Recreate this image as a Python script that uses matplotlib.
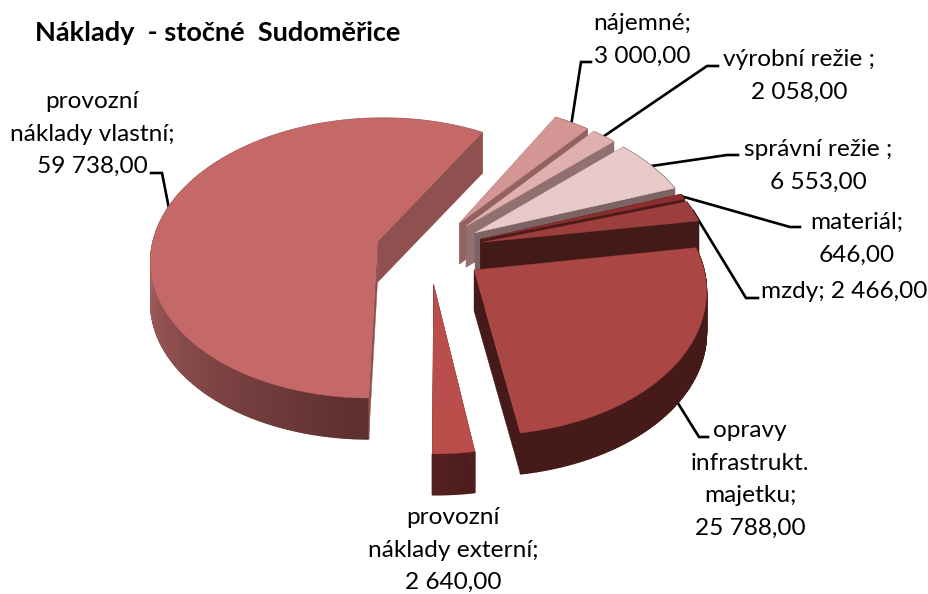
import numpy as np
import matplotlib
matplotlib.use("Agg")
import matplotlib.pyplot as plt
from matplotlib.patches import Polygon
from matplotlib.colors import to_rgb

plt.rcParams['font.family'] = ['Lato', 'DejaVu Sans']

# data, clockwise from the start of the big slice
names = [['provozní', 'náklady vlastní;'], ['nájemné;'], ['výrobní režie ;'], ['správní režie ;'],
         ['materiál;'], ['mzdy;'], ['opravy', 'infrastrukt.', 'majetku;'], ['provozní', 'náklady externí;']]
values = [59738.0, 3000.0, 2058.0, 6553.0, 646.0, 2466.0, 25788.0, 2640.0]

top_colors = ['#C46968', '#D49595', '#DFB0AF', '#E8CBC9', '#8A2F2D', '#9C3E3C', '#AA4643', '#B94E4B']
cut_colors = ['#8F5050', '#93625F', '#91706F', '#7B6463', '#4A1B19', '#421A18', '#461A18', '#4F1F1E']
wall_near = ['#5C2E2E', '#93625F', '#91706F', '#7B6463', '#4A1B19', '#421A18', '#461A18', '#4A1C1B']
wall_far = ['#A86060', '#93625F', '#91706F', '#7B6463', '#4A1B19', '#421A18', '#461A18', '#552120']

# projection of the tilted pie to pixels
cx, cy = 429.5, 250
sx, sy = 226, 140
persp = 0.12
depth = 41
explode = 0.24
start_angle = 180.4


def project(x, y):
    s = 1 / (1 + persp * y)
    return cx + sx * x * s, cy - sy * y * s


def rim_point(ox, oy, ang):
    a = np.radians(ang)
    return project(ox + np.sin(a), oy + np.cos(a))


fig = plt.figure(figsize=(9.29, 5.94), dpi=100)
ax = fig.add_axes([0, 0, 1, 1])
ax.set_xlim(0, 929)
ax.set_ylim(594, 0)
ax.axis('off')

total = sum(values)
sweeps = [v / total * 360 for v in values]
starts = start_angle + np.concatenate([[0], np.cumsum(sweeps)[:-1]])

# elbow and end of the leader for every label
elbows = [[(162, 173), (151, 173)], [(581, 62), (591, 62)], [(707, 66), (718, 66)], [(727, 155), (738, 155)],
          [(790, 227), (800, 227)], [(746, 298), (758, 298)], [(699, 437), (708, 437)], None]
anchors = [(92, 108), (642, 30), (799, 66), (818, 156), (857, 229), (844, 298), (750, 437), (453, 524)]

fs = 17.6
anchor_pts = []
for i in range(len(values)):
    a0, sw = starts[i], sweeps[i]
    mid = a0 + sw / 2
    ox = explode * np.sin(np.radians(mid))
    oy = explode * np.cos(np.radians(mid))
    ap = project(ox, oy)
    angs = np.linspace(a0, a0 + sw, max(int(sw * 2), 6))
    rim = [rim_point(ox, oy, a) for a in angs]
    anchor_pts.append(rim_point(ox, oy, mid))
    zo = 2 + i

    # outer wall, shaded along the rim
    c0, c1 = np.array(to_rgb(wall_near[i])), np.array(to_rgb(wall_far[i]))
    for j in range(len(rim) - 1):
        t = min(1.0, j / max(len(rim) - 2, 1) * (sw / 90 if sw > 150 else 1))
        col = c0 * (1 - t) + c1 * t
        p, r = rim[j], rim[j + 1]
        q = [p, r, (r[0], r[1] + depth), (p[0], p[1] + depth)]
        ax.add_patch(Polygon(q, closed=True, fc=col, ec=col, lw=1.0, zorder=zo))

    # flat cut walls
    for p in (rim[0], rim[-1]):
        q = [ap, p, (p[0], p[1] + depth), (ap[0], ap[1] + depth)]
        ax.add_patch(Polygon(q, closed=True, fc=cut_colors[i], ec=cut_colors[i], lw=0.3, zorder=zo))

    # top face
    ax.add_patch(Polygon([ap] + rim, closed=True, fc=top_colors[i], ec=top_colors[i], lw=0.3, zorder=zo))

# leaders, the front slice's leader starts at the bottom of its wall
for i, el in enumerate(elbows):
    if el is None:
        continue
    ax0, ay0 = anchor_pts[i]
    if i == 6:
        ay0 += depth
    xs = [ax0, el[0][0], el[1][0]]
    ys = [ay0, el[0][1], el[1][1]]
    ax.plot(xs, ys, color='black', lw=1.9, solid_joinstyle='miter', zorder=1)

# labels
line_gap = 32.6
for i in range(len(values)):
    val = f"{values[i]:,.2f}".replace(',', ' ').replace('.', ',')
    x, y = anchors[i]
    if i == 5:
        lines = [names[i][0] + ' ' + val]
    else:
        lines = names[i] + [val]
    for k, line in enumerate(lines):
        ax.text(x, y + k * line_gap, line, ha='center', va='baseline', fontsize=fs, color='black', zorder=20)

ax.text(35, 41, 'Náklady  - stočné  Sudoměřice', ha='left', va='baseline', fontsize=19.5,
        fontweight='bold', color='black', zorder=20)

fig.savefig('out.png', dpi=100)
